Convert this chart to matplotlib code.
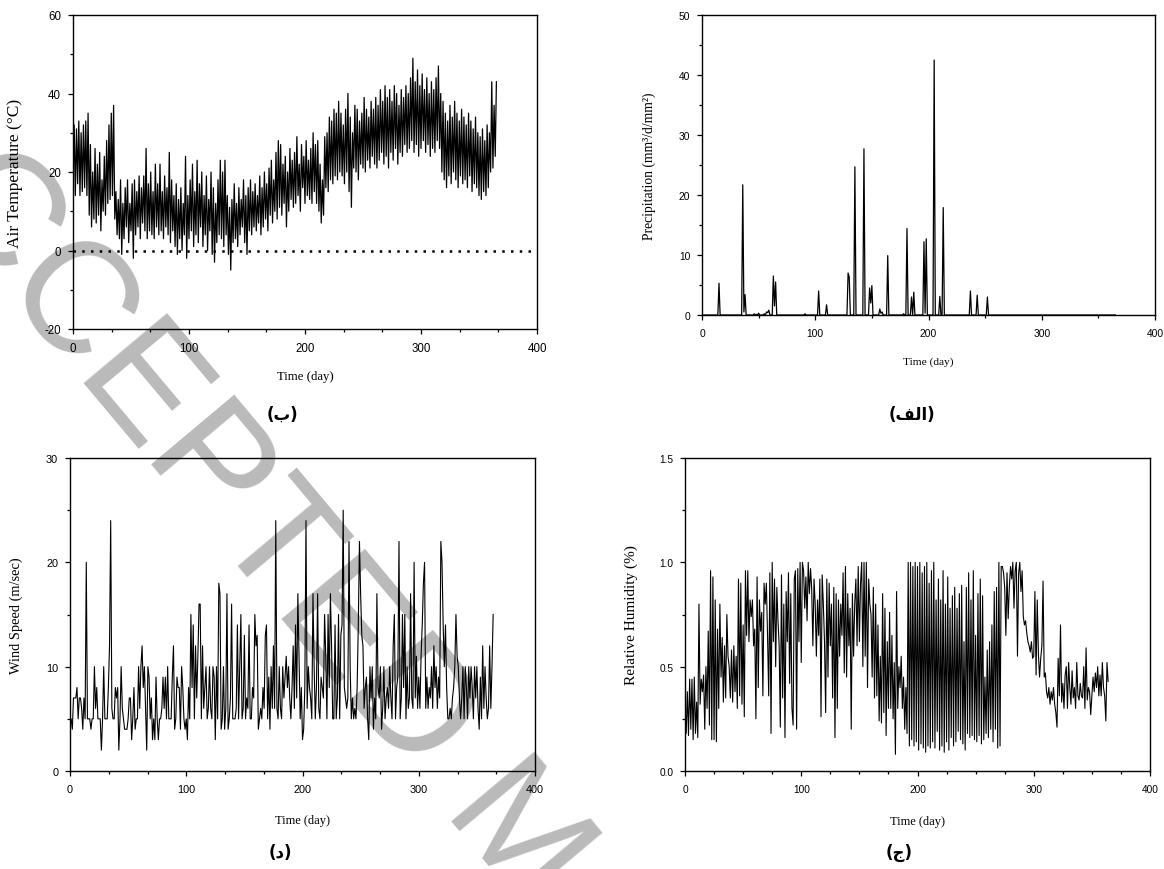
import numpy as np
import matplotlib
matplotlib.use("Agg")
import matplotlib.pyplot as plt
from matplotlib.ticker import MultipleLocator, FormatStrFormatter

plt.rcParams['font.family'] = ['Liberation Sans', 'DejaVu Sans']

# ---- values ----
# air temperature: low / high of each 2-day step (day 0, 2, 4, ... 364)
temp_max = [32, 31, 33, 30, 32, 33, 35, 27, 20, 26,
            22, 25, 18, 24, 28, 32, 35, 37, 15, 13,
            18, 12, 16, 18, 12, 17, 18, 15, 19, 16,
            19, 26, 17, 20, 15, 22, 17, 22, 15, 19,
            16, 25, 18, 14, 17, 13, 16, 12, 24, 14,
            18, 22, 15, 23, 17, 20, 14, 19, 13, 20,
            16, 12, 18, 23, 20, 23, 14, 11, 13, 17,
            12, 16, 13, 18, 14, 16, 18, 15, 17, 14,
            19, 16, 20, 17, 21, 23, 18, 25, 28, 27,
            22, 24, 20, 26, 23, 25, 29, 22, 27, 24,
            28, 23, 26, 30, 27, 28, 22, 18, 29, 30,
            34, 33, 36, 35, 38, 35, 32, 36, 40, 34,
            30, 37, 36, 33, 35, 39, 36, 34, 38, 36,
            39, 37, 41, 38, 42, 39, 41, 38, 42, 40,
            37, 41, 39, 42, 40, 44, 49, 43, 46, 42,
            45, 41, 44, 40, 43, 41, 44, 47, 40, 38,
            35, 33, 37, 34, 38, 35, 33, 36, 34, 32,
            35, 33, 31, 34, 30, 29, 31, 28, 32, 30,
            43, 37, 43]
temp_min = [16, 14, 17, 14, 15, 16, 14, 9, 6, 8,
            7, 9, 5, 10, 9, 12, 13, 14, 8, 4,
            3, -1, 3, 6, 2, 5, -2, 4, 6, 3,
            7, 5, 3, 5, 4, 3, 6, 4, 5, 3,
            6, 4, 2, 5, 1, -1, 3, 0, 4, -2,
            3, 5, 1, 4, 2, 6, 1, 4, 0, 5,
            -1, -3, 2, 4, 3, 1, 4, -1, -5, 2,
            3, 1, 4, 6, 2, -1, 5, 4, 6, 5,
            7, 4, 6, 8, 5, 9, 7, 10, 8, 11,
            9, 12, 6, 10, 13, 11, 12, 14, 10, 16,
            12, 14, 13, 12, 15, 12, 10, 7, 9, 16,
            15, 18, 17, 19, 18, 20, 19, 17, 20, 15,
            11, 21, 20, 18, 22, 21, 20, 23, 21, 24,
            22, 21, 23, 25, 22, 24, 21, 25, 23, 26,
            22, 25, 24, 27, 25, 26, 28, 25, 27, 24,
            26, 28, 25, 27, 24, 26, 25, 28, 26, 20,
            18, 16, 19, 17, 20, 18, 16, 19, 17, 18,
            16, 19, 15, 17, 16, 14, 13, 15, 14, 16,
            20, 21, 24]

# precipitation: only the rainy days, everything else is 0
rain_days = [15, 36, 37, 38, 46, 48, 50, 55, 57, 58, 59, 63, 64, 65, 91,
             103, 110, 129, 130, 135, 143, 148, 149, 150, 157, 158, 159,
             164, 178, 181, 185, 187, 196, 197, 198, 205, 210, 213, 237,
             243, 252]
rain_vals = [5.3, 21.7, 0.5, 3.4, 0.2, 0.1, 0.3, 0.2, 0.5, 0.4, 0.8, 6.5,
             1.5, 5.5, 0.2, 4.0, 1.7, 7.0, 6.3, 24.7, 27.7, 4.5, 2.0, 4.9,
             1.0, 0.3, 0.5, 9.9, 0.2, 14.4, 3.0, 3.8, 12.2, 0.3, 12.7,
             42.5, 3.1, 17.9, 4.0, 3.3, 3.0]

# daily wind speed (m/sec), day 0..364
wind_speed = [5, 5, 4, 7, 7, 7, 8, 5, 7, 7,
              6, 4, 7, 5, 20, 5, 5, 5, 4, 5,
              5, 10, 6, 8, 5, 5, 5, 2, 5, 10,
              5, 5, 5, 8, 12, 24, 6, 5, 5, 8,
              7, 8, 2, 5, 10, 6, 5, 4, 4, 4,
              5, 7, 7, 3, 5, 8, 4, 5, 5, 10,
              6, 10, 12, 8, 10, 6, 2, 10, 9, 5,
              7, 3, 5, 3, 9, 5, 3, 5, 5, 6,
              9, 6, 9, 5, 10, 5, 5, 5, 9, 12,
              4, 5, 9, 8, 8, 4, 10, 8, 5, 4,
              5, 3, 8, 5, 15, 8, 14, 5, 12, 7,
              11, 16, 16, 5, 12, 6, 8, 10, 5, 6,
              10, 6, 5, 10, 9, 3, 10, 5, 18, 17,
              4, 5, 10, 4, 6, 17, 4, 5, 7, 16,
              5, 5, 5, 6, 14, 5, 10, 15, 5, 6,
              13, 5, 7, 6, 14, 5, 5, 8, 7, 15,
              12, 13, 4, 5, 6, 5, 8, 6, 13, 14,
              5, 9, 4, 10, 6, 12, 6, 24, 6, 5,
              10, 6, 5, 10, 7, 9, 11, 8, 10, 7,
              5, 8, 12, 6, 14, 7, 17, 11, 5, 8,
              3, 4, 8, 24, 6, 10, 8, 7, 5, 17,
              10, 5, 8, 17, 6, 5, 9, 8, 7, 15,
              11, 5, 15, 8, 17, 12, 5, 5, 14, 5,
              7, 15, 5, 13, 14, 25, 8, 7, 6, 7,
              22, 10, 5, 7, 5, 6, 5, 8, 14, 22,
              17, 13, 12, 6, 8, 9, 5, 3, 10, 7,
              10, 4, 7, 5, 17, 8, 7, 10, 4, 6,
              10, 5, 7, 8, 6, 10, 7, 5, 12, 15,
              5, 8, 9, 22, 5, 7, 15, 8, 15, 5,
              10, 6, 7, 17, 7, 6, 20, 7, 11, 6,
              9, 6, 11, 14, 18, 20, 6, 9, 6, 8,
              7, 10, 6, 12, 8, 10, 6, 9, 7, 22,
              20, 14, 10, 14, 8, 5, 5, 6, 5, 7,
              8, 10, 15, 11, 10, 7, 5, 7, 10, 5,
              10, 8, 5, 10, 7, 10, 8, 5, 10, 7,
              10, 6, 4, 9, 5, 12, 6, 10, 7, 5,
              6, 12, 6, 10, 15]

# daily relative humidity (fraction), day 0..364
rel_humidity = [0.33, 0.18, 0.38, 0.17, 0.44, 0.20, 0.44, 0.15, 0.45, 0.18,
                0.33, 0.16, 0.80, 0.32, 0.44, 0.38, 0.46, 0.20, 0.50, 0.30,
                0.67, 0.22, 0.96, 0.15, 0.93, 0.15, 0.82, 0.14, 0.68, 0.30,
                0.80, 0.45, 0.64, 0.33, 0.60, 0.35, 0.75, 0.55, 0.50, 0.35,
                0.58, 0.33, 0.60, 0.38, 0.55, 0.30, 0.92, 0.36, 0.90, 0.32,
                0.70, 0.26, 0.96, 0.65, 0.96, 0.62, 0.82, 0.74, 0.82, 0.60,
                0.68, 0.25, 0.93, 0.40, 0.82, 0.67, 0.76, 0.36, 0.90, 0.80,
                0.90, 0.65, 0.36, 0.95, 0.18, 1.00, 0.62, 0.92, 0.50, 0.88,
                0.72, 0.60, 0.21, 0.94, 0.35, 0.80, 0.16, 0.86, 0.62, 0.95,
                0.42, 0.85, 0.30, 0.22, 0.92, 0.96, 0.20, 0.97, 0.62, 1.00,
                0.52, 1.00, 0.96, 0.78, 0.93, 0.72, 1.00, 0.85, 0.97, 0.87,
                0.60, 0.92, 0.80, 0.55, 0.82, 0.65, 0.92, 0.26, 0.94, 0.80,
                0.62, 0.28, 0.92, 0.45, 0.90, 0.60, 0.80, 0.35, 0.88, 0.16,
                0.85, 0.30, 0.82, 0.55, 0.80, 0.65, 0.95, 0.47, 0.98, 0.45,
                0.85, 0.60, 0.78, 0.20, 0.85, 0.55, 0.80, 0.92, 0.60, 0.98,
                0.62, 0.90, 1.00, 0.50, 1.00, 0.55, 1.00, 0.40, 0.92, 0.80,
                0.75, 0.45, 0.88, 0.35, 0.80, 0.36, 0.70, 0.24, 0.55, 0.23,
                0.85, 0.28, 0.78, 0.17, 0.62, 0.30, 0.76, 0.30, 0.65, 0.25,
                0.52, 0.08, 0.86, 0.30, 0.50, 0.40, 0.55, 0.30, 0.45, 0.20,
                0.40, 0.18, 1.00, 0.12, 1.00, 0.15, 0.98, 0.12, 1.00, 0.14,
                0.98, 0.10, 1.00, 0.13, 0.95, 0.11, 0.98, 0.09, 1.00, 0.12,
                0.90, 0.11, 0.96, 0.14, 1.00, 0.11, 0.82, 0.19, 0.92, 0.10,
                0.82, 0.12, 0.96, 0.09, 0.80, 0.14, 0.93, 0.10, 0.78, 0.16,
                0.84, 0.12, 0.88, 0.14, 0.78, 0.19, 0.85, 0.15, 0.89, 0.13,
                0.62, 0.10, 0.88, 0.18, 0.95, 0.16, 0.82, 0.17, 0.96, 0.15,
                0.65, 0.14, 0.85, 0.17, 0.92, 0.13, 0.84, 0.15, 0.45, 0.18,
                0.58, 0.16, 0.62, 0.20, 0.70, 0.14, 0.86, 0.20, 0.88, 0.11,
                1.00, 0.12, 0.98, 0.98, 0.95, 0.88, 0.65, 0.95, 0.73, 0.88,
                0.98, 0.92, 1.00, 0.78, 0.96, 1.00, 0.55, 0.95, 1.00, 0.86,
                0.96, 0.74, 0.70, 0.72, 0.66, 0.62, 0.60, 0.57, 0.62, 0.54,
                0.55, 0.86, 0.46, 0.82, 0.56, 0.45, 0.54, 0.60, 0.91, 0.45,
                0.47, 0.38, 0.35, 0.40, 0.32, 0.38, 0.34, 0.40, 0.32, 0.28,
                0.21, 0.54, 0.36, 0.70, 0.33, 0.42, 0.30, 0.46, 0.50, 0.30,
                0.52, 0.40, 0.32, 0.48, 0.35, 0.40, 0.30, 0.52, 0.36, 0.34,
                0.42, 0.36, 0.35, 0.50, 0.30, 0.59, 0.34, 0.40, 0.38, 0.27,
                0.36, 0.45, 0.38, 0.47, 0.40, 0.50, 0.36, 0.46, 0.36, 0.52,
                0.40, 0.36, 0.24, 0.52, 0.43]

panel_tags = ["(ب)", "(\ufed2\ufedf\ufe8d)", "(د)", "(ج)"]
x_label = "Time (day)"
y_labels = ["Air Temperature (\u00b0C)", "Precipitation (mm\u00b3/d/mm\u00b2)",
            "Wind Speed (m/sec)", "Relative Humidity (%)"]


def style_axes(ax, ylim, ymajor, yminor, xminor, yfmt, tick_fs,
               ylab, ylab_fs, ylab_x, xlab_fs, xlab_y):
    ax.set_facecolor("none")
    ax.set_xlim(0, 400)
    ax.set_ylim(*ylim)
    ax.xaxis.set_major_locator(MultipleLocator(100))
    ax.xaxis.set_minor_locator(MultipleLocator(xminor))
    ax.yaxis.set_major_locator(MultipleLocator(ymajor))
    ax.yaxis.set_minor_locator(MultipleLocator(yminor))
    ax.yaxis.set_major_formatter(FormatStrFormatter(yfmt))
    for s in ax.spines.values():
        s.set_linewidth(1.0)
    ax.tick_params(which="both", direction="out", top=False, right=False,
                   width=0.9, labelsize=tick_fs)
    ax.tick_params(which="major", length=3.5)
    ax.tick_params(which="minor", length=2)
    ax.tick_params(axis="x", which="major", pad=6)
    ax.tick_params(axis="y", which="major", pad=5)
    ax.set_xlabel(x_label, family="Liberation Serif", fontsize=xlab_fs)
    ax.xaxis.set_label_coords(0.5, xlab_y)
    ax.set_ylabel(ylab, family="Liberation Serif", fontsize=ylab_fs)
    ax.yaxis.set_label_coords(ylab_x, 0.5)


fig = plt.figure(figsize=(11.64, 8.70), dpi=100)

# watermark, behind the plots
fig.text(-140 / 1164, 1 - 117 / 870, "ACCEPTED MANUSCRIPT", fontsize=114,
         family="Liberation Sans", color="#bababa",
         rotation=-50, rotation_mode="anchor", ha="left", va="baseline",
         zorder=-1)

ax_t = fig.add_axes([73 / 1164, 1 - 330 / 870, 464 / 1164, 314 / 870])
ax_p = fig.add_axes([702 / 1164, 1 - 316 / 870, 453 / 1164, 300 / 870])
ax_w = fig.add_axes([70 / 1164, 1 - 772 / 870, 465 / 1164, 313 / 870])
ax_h = fig.add_axes([685 / 1164, 1 - 772 / 870, 465 / 1164, 313 / 870])

# air temperature: alternate low / high through the year
t_series = np.empty(2 * len(temp_min))
t_series[0::2] = temp_min
t_series[1::2] = temp_max
ax_t.plot(np.arange(len(t_series)), t_series, color="black", lw=0.9)
ax_t.axhline(0, color="black", ls=(0, (1, 2.5)), lw=1.8)
style_axes(ax_t, (-20, 60), 20, 10, 100 / 3, "%d", 8.3,
           y_labels[0], 12.5, -0.108, 9.2, -0.131)

# precipitation
rain = np.zeros(366)
rain[rain_days] = rain_vals
ax_p.plot(np.arange(366), rain, color="black", lw=0.9)
style_axes(ax_p, (0, 50), 10, 5, 50, "%d", 7.4,
           y_labels[1], 9.8, -0.102, 8.2, -0.137)

# wind speed
ax_w.plot(np.arange(len(wind_speed)), wind_speed, color="black", lw=0.8)
style_axes(ax_w, (0, 30), 10, 5, 100 / 3, "%d", 7.8,
           y_labels[2], 10.4, -0.101, 9.0, -0.137)

# relative humidity
ax_h.plot(np.arange(len(rel_humidity)), rel_humidity, color="black", lw=0.8)
style_axes(ax_h, (0, 1.5), 0.5, 0.25, 25, "%.1f", 7.3,
           y_labels[3], 11.0, -0.101, 9.0, -0.141)

# panel tags under each chart
tag_pos = [(282, 415), (912, 415), (280, 853), (899, 853)]
for tag, (px, py) in zip(panel_tags, tag_pos):
    fig.text(px / 1164, 1 - py / 870, tag, fontsize=12, fontweight="bold",
             family=["DejaVu Sans"], ha="center", va="center")

fig.savefig("out.png", dpi=100)
